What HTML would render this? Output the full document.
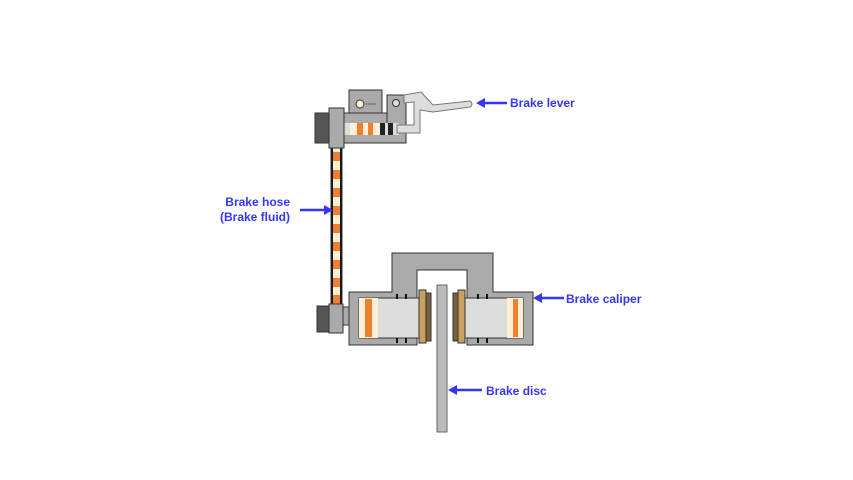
<!DOCTYPE html>
<html><head><style>body{margin:0;background:#fff}svg{display:block}text{font-family:"Liberation Sans",sans-serif;font-weight:bold;font-size:12px;fill:#3535f5}</style></head>
<body>
<svg width="853" height="480" viewBox="0 0 853 480" xmlns="http://www.w3.org/2000/svg">
<g stroke="#333" stroke-width="1">
<!-- hose -->
<rect x="331" y="143" width="11" height="163" fill="#111"/>
<rect x="333" y="143" width="7" height="163" fill="#fdf0d5" stroke="none"/>
<g fill="#f08030" stroke="none">
<rect x="333" y="152" width="7" height="9"/><rect x="333" y="170" width="7" height="9"/><rect x="333" y="188" width="7" height="9"/><rect x="333" y="206" width="7" height="9"/><rect x="333" y="224" width="7" height="9"/><rect x="333" y="242" width="7" height="9"/><rect x="333" y="260" width="7" height="9"/><rect x="333" y="278" width="7" height="9"/><rect x="333" y="295" width="7" height="9"/></g>
<!-- master cylinder -->
<rect x="349" y="90" width="33" height="24" fill="#aaa"/>
<circle cx="360" cy="104" r="4" fill="#fdf0d5"/>
<line x1="366" y1="104" x2="376" y2="104" stroke="#666"/>
<rect x="343" y="113" width="63" height="30" fill="#aaa"/>
<rect x="387" y="95" width="19" height="30" fill="#aaa"/>
<circle cx="396" cy="103" r="3.5" fill="#ddd"/>
<rect x="343" y="123" width="56" height="12" fill="#ddd" stroke="none"/>
<rect x="350" y="123" width="30" height="12" fill="#fdf0d5" stroke="none"/>
<rect x="357" y="123" width="6" height="12" fill="#f08030" stroke="none"/>
<rect x="368" y="123" width="5" height="12" fill="#f08030" stroke="none"/>
<rect x="380" y="123" width="5" height="12" fill="#222" stroke="none"/>
<rect x="388" y="123" width="5" height="12" fill="#222" stroke="none"/>
<path d="M404,95 L421,92 L433,105 L470,101 Q474,104 470,107 L433,112 L420,110 L420,133 L397,133 L397,125 L414,125 L414,102 L404,103Z" fill="#ddd" stroke="#777"/>
<rect x="329" y="108" width="15" height="40" fill="#aaa"/>
<rect x="315" y="113" width="14" height="30" fill="#555"/>
<!-- caliper -->
<path d="M392,253 H493 V292 H533 V345 H467 V270 H417 V345 H349 V292 H392Z" fill="#aaa"/>
<rect x="359" y="298" width="61" height="40" fill="#ddd"/>
<rect x="359" y="298" width="19" height="40" fill="#fdf0d5" stroke="none"/>
<rect x="365" y="299" width="7" height="38" fill="#f08030" stroke="none"/>
<rect x="465" y="298" width="58" height="40" fill="#ddd"/>
<rect x="507" y="298" width="16" height="40" fill="#fdf0d5" stroke="none"/>
<rect x="513" y="299" width="5" height="38" fill="#f08030" stroke="none"/>
<g fill="#111" stroke="none"><rect x="396" y="294" width="2" height="5"/><rect x="405" y="294" width="2" height="5"/><rect x="396" y="338" width="2" height="5"/><rect x="405" y="338" width="2" height="5"/><rect x="477" y="294" width="2" height="5"/><rect x="486" y="294" width="2" height="5"/><rect x="477" y="338" width="2" height="5"/><rect x="486" y="338" width="2" height="5"/></g>
<rect x="419" y="290" width="7" height="53" fill="#c8a060"/>
<rect x="426" y="293" width="5" height="48" fill="#7a6040"/>
<rect x="453" y="293" width="5" height="48" fill="#7a6040"/>
<rect x="458" y="290" width="7" height="53" fill="#c8a060"/>
<rect x="437" y="285" width="10" height="147" fill="#bbb" stroke="#666"/>
<rect x="343" y="307" width="6" height="18" fill="#aaa"/>
<rect x="329" y="304" width="14" height="29" fill="#aaa"/>
<rect x="317" y="306" width="12" height="26" fill="#555"/>
</g>
<!-- arrows -->
<g stroke="#3535f5" stroke-width="2.5">
<line x1="507" y1="103" x2="482" y2="103"/>
<line x1="300" y1="210" x2="326" y2="210"/>
<line x1="564" y1="298" x2="539" y2="298"/>
<line x1="482" y1="390" x2="454" y2="390"/>
</g>
<g fill="#3535f5">
<path d="M476,103 L485,98 L485,108Z"/>
<path d="M333,210 L324,205 L324,215Z"/>
<path d="M533,298 L542,293 L542,303Z"/>
<path d="M448,390 L457,385 L457,395Z"/>
</g>
<text x="510" y="107">Brake lever</text>
<text x="290" y="206" text-anchor="end">Brake hose</text>
<text x="290" y="221" text-anchor="end">(Brake fluid)</text>
<text x="566" y="303">Brake caliper</text>
<text x="486" y="395">Brake disc</text>
</svg>
</body></html>
